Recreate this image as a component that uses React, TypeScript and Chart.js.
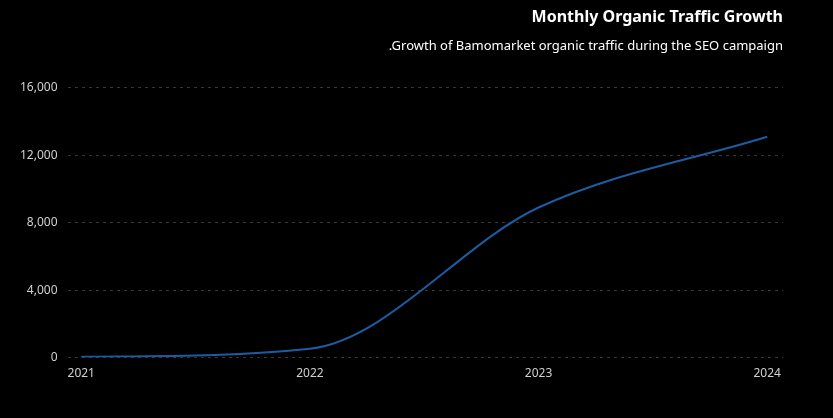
import React, { useEffect, useRef } from "react";
import { Chart, registerables } from "chart.js";

Chart.register(...registerables);

const years = [2021, 2022, 2023, 2024];
const traffic = [50, 530, 8900, 13100];
const yTicks = [0, 4000, 8000, 12000, 16000];
const titleText = "Monthly Organic Traffic Growth";
const subtitleText = ".Growth of Bamomarket organic traffic during the SEO campaign";

export default function App() {
  const ref = useRef<HTMLCanvasElement | null>(null);
  useEffect(() => {
    document.body.style.margin = "0";
    document.body.style.background = "#000";
    const ctx = ref.current!;
    const font = "'Noto Sans', 'Open Sans', sans-serif";
    const chart = new Chart(ctx, {
      type: "line",
      data: {
        datasets: [
          {
            data: years.map((y, i) => ({ x: y, y: traffic[i] })),
            borderColor: "#1c5ca3",
            borderWidth: 2,
            pointRadius: 0,
            fill: false,
            cubicInterpolationMode: "monotone",
          },
        ],
      },
      options: {
        animation: false,
        responsive: false,
        maintainAspectRatio: false,
        layout: { padding: { top: 6, right: 50, left: 10, bottom: 36 } },
        plugins: {
          legend: { display: false },
          tooltip: { enabled: false },
          title: {
            display: true,
            text: titleText,
            align: "end",
            color: "#ffffff",
            font: { family: font, size: 16, weight: "bold" },
            padding: { top: 2, bottom: 8 },
          },
          subtitle: {
            display: true,
            text: subtitleText,
            align: "end",
            color: "#ffffff",
            font: { family: font, size: 13 },
            padding: { top: 3, bottom: 34 },
          },
        },
        scales: {
          x: {
            type: "linear",
            min: years[0] - 0.06,
            max: years[years.length - 1] + 0.069,
            afterBuildTicks: (axis: any) => {
              axis.ticks = years.map((v) => ({ value: v }));
            },
            grid: { display: false },
            border: { display: false },
            ticks: {
              color: "#d0d0d0",
              font: { family: font, size: 12 },
              callback: (v: any) => String(v),
              maxRotation: 0,
              autoSkip: false,
              padding: 1,
            },
          },
          y: {
            min: yTicks[0],
            max: yTicks[yTicks.length - 1],
            afterBuildTicks: (axis: any) => {
              axis.ticks = yTicks.map((v) => ({ value: v }));
            },
            grid: {
              color: "#363636",
              drawTicks: false,
            },
            border: { display: false, dash: [3, 4] },
            ticks: {
              color: "#d0d0d0",
              font: { family: font, size: 12 },
              padding: 10,
              callback: (v: any) => Number(v).toLocaleString("en-US"),
            },
          },
        },
      },
    });
    return () => chart.destroy();
  }, []);
  return (
    <div style={{ width: 833, height: 418, background: "#000" }}>
      <canvas ref={ref} width={833} height={418} />
    </div>
  );
}
